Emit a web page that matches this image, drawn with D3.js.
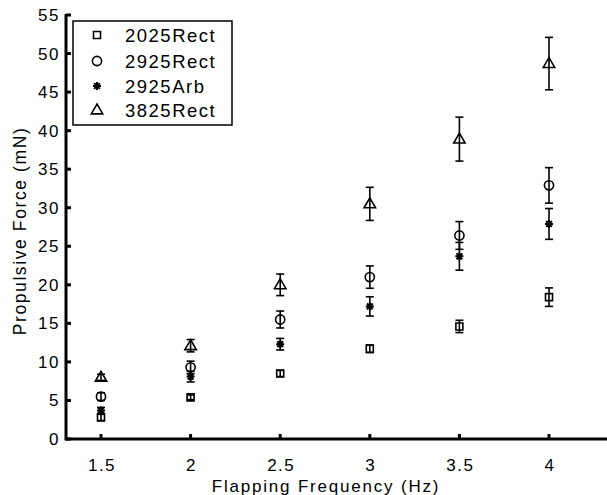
<!DOCTYPE html>
<html><head><meta charset="utf-8">
<script src="https://cdn.jsdelivr.net/npm/d3@7"></script>
<style>body{margin:0;background:#fff}svg{display:block}text{font-family:"Liberation Sans",Arial,sans-serif;fill:#000}</style>
</head><body><svg id="c" width="607" height="495"></svg>
<script>
const freqs = [1.5, 2, 2.5, 3, 3.5, 4];
const seriesNames = ["2025Rect", "2925Rect", "2925Arb", "3825Rect"];
const markers = ["square", "circle", "asterisk", "triangle"];
const rect2025 = [2.8, 5.4, 8.5, 11.7, 14.6, 18.4];
const rect2025Err = [0.4, 0.3, 0.4, 0.5, 0.8, 1.2];
const rect2925 = [5.5, 9.3, 15.5, 21.0, 26.4, 32.9];
const rect2925Err = [0.5, 0.8, 1.1, 1.45, 1.8, 2.3];
const arb2925 = [3.7, 8.1, 12.3, 17.2, 23.7, 27.9];
const arb2925Err = [0.4, 0.7, 0.75, 1.25, 1.8, 2.0];
const rect3825 = [8.0, 12.1, 20.0, 30.5, 38.9, 48.7];
const rect3825Err = [0.4, 0.8, 1.4, 2.15, 2.85, 3.4];
const xTicks = [1.5, 2, 2.5, 3, 3.5, 4];
const yTicks = [0, 5, 10, 15, 20, 25, 30, 35, 40, 45, 50, 55];

const values = [rect2025, rect2925, arb2925, rect3825];
const errs = [rect2025Err, rect2925Err, arb2925Err, rect3825Err];

const svg = d3.select("#c");
const x = d3.scaleLinear().domain([1.5, 4]).range([101, 549]);
const y = d3.scaleLinear().domain([0, 55]).range([439, 15]);
const axX0 = 66, axX1 = 607;

function markerPath(type, s) {
  const p = d3.path();
  if (type === "square") { p.rect(-s, -s, 2*s, 2*s); }
  else if (type === "circle") { p.arc(0, 0, s, 0, 2*Math.PI); p.closePath(); }
  else if (type === "triangle") { p.moveTo(0, -s*1.15); p.lineTo(s*1.1, s*0.75); p.lineTo(-s*1.1, s*0.75); p.closePath(); }
  else if (type === "asterisk") {
    p.moveTo(-s, 0); p.lineTo(s, 0); p.moveTo(0, -s); p.lineTo(0, s);
    const d = s*0.72; p.moveTo(-d, -d); p.lineTo(d, d); p.moveTo(-d, d); p.lineTo(d, -d);
  }
  return p.toString();
}
const mSize = {square: 3.5, circle: 4.6, triangle: 5.2, asterisk: 4};

// data
const g = svg.append("g");
values.forEach((vals, si) => {
  const sg = g.append("g");
  vals.forEach((v, i) => {
    const cx = x(freqs[i]), e = errs[si][i];
    const y0 = y(v - e), y1 = y(v + e);
    sg.append("line").attr("x1", cx).attr("x2", cx).attr("y1", y0).attr("y2", y1)
      .attr("stroke", "#000").attr("stroke-width", 1.6);
    [y0, y1].forEach(yy => sg.append("line").attr("x1", cx - 4).attr("x2", cx + 4)
      .attr("y1", yy).attr("y2", yy).attr("stroke", "#000").attr("stroke-width", 1.6));
    sg.append("path").attr("d", markerPath(markers[si], mSize[markers[si]]))
      .attr("transform", `translate(${cx},${y(v)})`)
      .attr("fill", "none").attr("stroke", "#000")
      .attr("stroke-width", markers[si] === "asterisk" ? 2 : 1.6);
  });
});

// axes
const ax = svg.append("g");
ax.append("line").attr("x1", axX0).attr("x2", axX1).attr("y1", 439).attr("y2", 439)
  .attr("stroke", "#000").attr("stroke-width", 3);
ax.append("line").attr("x1", axX0).attr("x2", axX0).attr("y1", y(55) - 1).attr("y2", 440.5)
  .attr("stroke", "#000").attr("stroke-width", 3);
xTicks.forEach(t => {
  ax.append("line").attr("x1", x(t)).attr("x2", x(t)).attr("y1", 439).attr("y2", 434)
    .attr("stroke", "#000").attr("stroke-width", 3);
  ax.append("text").attr("x", x(t) + 1).attr("y", 470.5).attr("text-anchor", "middle")
    .attr("font-size", 17).attr("letter-spacing", 1.5).text(t);
});
yTicks.forEach(t => {
  ax.append("line").attr("x1", axX0).attr("x2", axX0 + 5).attr("y1", y(t)).attr("y2", y(t))
    .attr("stroke", "#000").attr("stroke-width", 3);
  ax.append("text").attr("x", 60).attr("y", y(t) + 6).attr("text-anchor", "end")
    .attr("font-size", 17).attr("letter-spacing", 1.5).text(t);
});
svg.append("text").attr("x", 326).attr("y", 491.5).attr("text-anchor", "middle")
  .attr("font-size", 17).attr("letter-spacing", 1.8).text("Flapping Frequency (Hz)");
svg.append("text").attr("transform", "translate(26,231) rotate(-90)").attr("text-anchor", "middle")
  .attr("font-size", 17.5).attr("letter-spacing", 1.6).text("Propulsive Force (mN)");

// legend
const lg = svg.append("g");
lg.append("rect").attr("x", 73).attr("y", 21).attr("width", 159).attr("height", 104)
  .attr("fill", "#fff").attr("stroke", "#000").attr("stroke-width", 1.5);
const rowY = [35, 61, 86, 110];
seriesNames.forEach((n, i) => {
  lg.append("path").attr("d", markerPath(markers[i], mSize[markers[i]]))
    .attr("transform", `translate(97,${rowY[i]})`)
    .attr("fill", "none").attr("stroke", "#000").attr("stroke-width", markers[i] === "asterisk" ? 2 : 1.6);
  lg.append("text").attr("x", 125).attr("y", rowY[i] + 6.5).attr("font-size", 18.5)
    .attr("letter-spacing", 1.5).text(n);
});
</script></body></html>
